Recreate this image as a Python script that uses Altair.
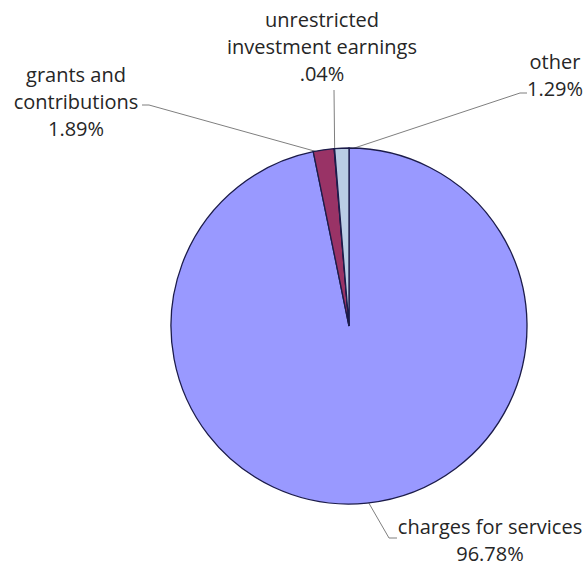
import math
import altair as alt
import pandas as pd

# ---- data ----
categories = ["charges for services", "grants and contributions",
              "unrestricted investment earnings", "other"]
values = [96.78, 1.89, 0.04, 1.29]
pct_labels = ["96.78%", "1.89%", ".04%", "1.29%"]
label_lines = [
    ["charges for services", "96.78%"],
    ["grants and", "contributions", "1.89%"],
    ["unrestricted", "investment earnings", ".04%"],
    ["other", "1.29%"],
]

# ---- layout / style ----
W, H = 587, 570
CX, CY, R = 349, 326, 178
colors = ["#9999FF", "#993366", "#FFFFCC", "#B9CDE5"]
FONT = "Open Sans"
FS = 20
LH = 27
# label block: (center x, first-line center y)
label_pos = [(490, 528), (76, 76), (322, 21), (555, 63)]
# leader line: points from label side toward slice (slice end appended from data)
leader_start = [
    [(397, 538), (389, 538)],
    [(142, 105), (149, 105)],
    [(334, 90)],
    [(527, 93), (520, 93)],
]
leader_depth = [4, 4, 4, 4]

pie_df = pd.DataFrame({"cat": categories, "value": values,
                       "idx": list(range(len(categories)))})

# slice mid-angles from the values
total = sum(values)
mids = []
acc = 0.0
for v in values:
    mids.append((acc + v / 2) / total * 2 * math.pi)
    acc += v

text_rows = []
for i, lines in enumerate(label_lines):
    lx, ly = label_pos[i]
    for j, t in enumerate(lines):
        text_rows.append({"x": lx, "y": ly + j * LH, "t": t})
text_df = pd.DataFrame(text_rows)

line_rows = []
for i in range(len(categories)):
    pts = list(leader_start[i])
    a = mids[i]
    rr = R - leader_depth[i]
    pts.append((CX + rr * math.sin(a), CY - rr * math.cos(a)))
    for k, (px, py) in enumerate(pts):
        line_rows.append({"g": i, "k": k, "x": px, "y": py})
line_df = pd.DataFrame(line_rows)

xs = alt.Scale(domain=[0, W], range=[0, W])
ys = alt.Scale(domain=[0, H], range=[0, H])

pie = alt.Chart(pie_df).mark_arc(
    outerRadius=R, stroke="#1b1b4a", strokeWidth=1.3
).encode(
    theta=alt.Theta("value:Q", stack=True),
    color=alt.Color("cat:N", scale=alt.Scale(domain=categories, range=colors), legend=None),
    order=alt.Order("idx:Q"),
    x=alt.value(CX),
    y=alt.value(CY),
)

leaders = alt.Chart(line_df).mark_line(color="#7f7f7f", strokeWidth=1).encode(
    x=alt.X("x:Q", scale=xs, axis=None),
    y=alt.Y("y:Q", scale=ys, axis=None),
    detail="g:N",
    order="k:Q",
)

texts = alt.Chart(text_df).mark_text(
    font=FONT, fontSize=FS, color="#262626", align="center", baseline="middle"
).encode(
    x=alt.X("x:Q", scale=xs, axis=None),
    y=alt.Y("y:Q", scale=ys, axis=None),
    text="t:N",
)

chart = alt.layer(leaders, pie, texts).properties(
    width=W, height=H, padding=0, autosize=alt.AutoSizeParams(type="none"),
    view=alt.ViewBackground(stroke="transparent", strokeWidth=0, fill="white"),
).configure_view(stroke="transparent", strokeWidth=0).configure(background="white")

chart.save("out.html", embed_options={"renderer": "svg", "actions": False})
